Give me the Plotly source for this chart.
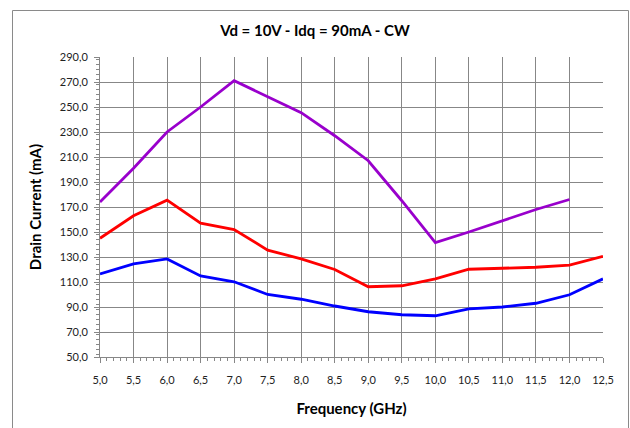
import plotly.graph_objects as go

freq = [5.0, 5.5, 6.0, 6.5, 7.0, 7.5, 8.0, 8.5, 9.0, 9.5, 10.0, 10.5, 11.0, 11.5, 12.0, 12.5]
purple_vals = [174, 201, 230, 250, 271, 258, 245.5, 227, 207, 175, 141.5, 150, 159, 168, 176, None]
red_vals = [145, 163, 175.5, 157, 152, 135.5, 128.5, 120, 106.2, 107, 112.5, 120.2, 121, 121.8, 123.5, 130.5]
blue_vals = [116.5, 124.5, 128.5, 114.8, 110.2, 100, 96.2, 90.8, 86.2, 83.8, 83, 88.5, 90, 93, 99.8, 112.5]

y_ticks = list(range(50, 291, 20))
x_ticks = [5.0 + 0.5 * i for i in range(16)]

grid = "#878787"
font = "Lato"

fig = go.Figure()
for vals, col in [(purple_vals, "#9900CC"), (red_vals, "#FF0000"), (blue_vals, "#0000FF")]:
    fig.add_trace(go.Scatter(x=freq, y=vals, mode="lines",
                             line=dict(color=col, width=2.8), connectgaps=False,
                             showlegend=False))

fig.update_layout(
    width=630, height=428,
    margin=dict(l=100, r=27, t=57, b=71),
    paper_bgcolor="white", plot_bgcolor="white",
    separators=", ",
    font=dict(family=font, color="#000000"),
    title=dict(text="<b>Vd = 10V - Idq = 90mA - CW</b>", x=0.5, xanchor="center",
               y=1 - 31 / 428, yanchor="middle", font=dict(size=15, family=font, color="#000")),
    shapes=[dict(type="rect", xref="paper", yref="paper",
                 x0=(12.5 - 100) / 503, x1=(628.5 - 100) / 503,
                 y0=(357 - 440) / 300, y1=(357 - 10.5) / 300,
                 line=dict(color="#8a8a8a", width=1), fillcolor="rgba(0,0,0,0)", layer="above")],
)

fig.update_xaxes(
    range=[5.0, 12.5], tickvals=x_ticks, tickformat=".1f",
    showgrid=True, gridcolor=grid, gridwidth=1,
    showline=True, linecolor=grid, linewidth=1,
    ticks="outside", ticklen=5, tickcolor=grid, ticklabelstandoff=8,
    tickfont=dict(size=11, color="#222"),
    minor=dict(dtick=0.1, ticks="outside", ticklen=3, tickcolor=grid, showgrid=False),
    title=dict(text="<b>Frequency (GHz)</b>", font=dict(size=15, family=font), standoff=18),
    zeroline=False,
)
fig.update_yaxes(
    range=[50, 290], tickvals=y_ticks, tickformat=".1f",
    showgrid=True, gridcolor=grid, gridwidth=1,
    showline=True, linecolor=grid, linewidth=1,
    ticks="outside", ticklen=5, tickcolor=grid, ticklabelstandoff=4,
    tickfont=dict(size=11, color="#222"),
    minor=dict(dtick=4, ticks="outside", ticklen=3, tickcolor=grid, showgrid=False),
    title=dict(text="<b>Drain Current (mA)</b>", font=dict(size=15, family=font), standoff=14),
    zeroline=False,
)

fig.write_html("out.html", config={"displayModeBar": False},
               post_script="document.body.style.margin='0';document.body.style.overflow='hidden';")
